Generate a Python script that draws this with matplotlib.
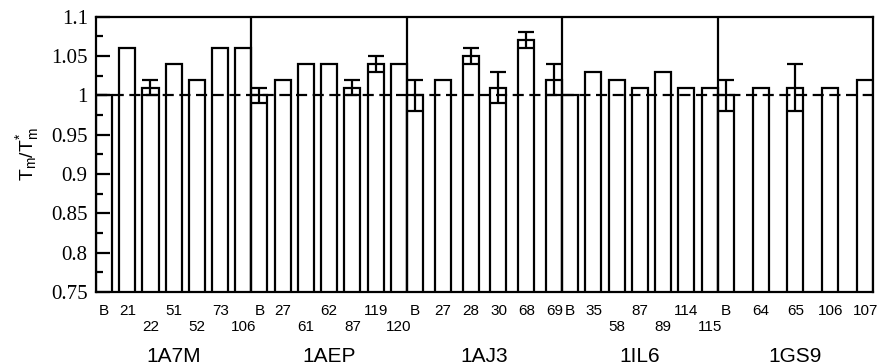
import numpy as np
import matplotlib
matplotlib.use("Agg")
import matplotlib.pyplot as plt
from matplotlib.ticker import MultipleLocator

plt.rcParams['mathtext.fontset'] = 'custom'
plt.rcParams['mathtext.rm'] = 'Liberation Sans'
plt.rcParams['mathtext.it'] = 'Liberation Sans'

# Proteins and the mutation sites tested in each
proteins = ["1A7M", "1AEP", "1AJ3", "1IL6", "1GS9"]
sites = [
    ["B", "21", "22", "51", "52", "73", "106"],
    ["B", "27", "61", "62", "87", "119", "120"],
    ["B", "27", "28", "30", "68", "69"],
    ["B", "35", "58", "87", "89", "114", "115"],
    ["B", "64", "65", "106", "107"],
]
# Normalised melting temperature Tm/Tm*
tm_ratio = [
    [1.00, 1.06, 1.01, 1.04, 1.02, 1.06, 1.06],
    [1.00, 1.02, 1.04, 1.04, 1.01, 1.04, 1.04],
    [1.00, 1.02, 1.05, 1.01, 1.07, 1.02],
    [1.00, 1.03, 1.02, 1.01, 1.03, 1.01, 1.01],
    [1.00, 1.01, 1.01, 1.01, 1.02],
]
# Uncertainty (0 = no error bar drawn)
tm_err = [
    [0.00, 0.00, 0.01, 0.00, 0.00, 0.00, 0.00],
    [0.01, 0.00, 0.00, 0.00, 0.01, 0.01, 0.00],
    [0.02, 0.00, 0.01, 0.02, 0.01, 0.02],
    [0.00, 0.00, 0.00, 0.00, 0.00, 0.00, 0.00],
    [0.02, 0.00, 0.03, 0.00, 0.00],
]
# Which labels go on the lower row (staggered to avoid overlap)
lower_row = [
    [0, 0, 1, 0, 1, 0, 1],
    [0, 0, 1, 0, 1, 0, 1],
    [0, 0, 0, 0, 0, 0],
    [0, 0, 1, 0, 1, 0, 1],
    [0, 0, 0, 0, 0],
]

fig = plt.figure(figsize=(8.81, 3.64), dpi=100)
ax = fig.add_axes([0.109, 0.198, 0.882, 0.756])
ax.set_axisbelow(False)

width = 0.103
lw = 1.6
top_x, top_lab, low_x, low_lab = [], [], [], []
for g, (labs, vals, errs, low) in enumerate(zip(sites, tm_ratio, tm_err, lower_row)):
    n = len(vals)
    step = (1 - width) / (n - 1)
    pos = g + width / 2 + step * np.arange(n)
    ax.bar(pos, vals, width=width, bottom=0, color="white",
           edgecolor="black", linewidth=lw, zorder=2)
    errs = np.asarray(errs)
    mask = errs > 0
    if mask.any():
        ax.errorbar(pos[mask], np.asarray(vals)[mask], yerr=errs[mask],
                    fmt="none", ecolor="black", elinewidth=lw,
                    capsize=5.5, capthick=lw, zorder=4)
    for p, s, lo in zip(pos, labs, low):
        if lo:
            low_x.append(p)
            low_lab.append(s)
        else:
            top_x.append(p)
            top_lab.append(s)
    ax.text(g + 0.5, -0.233, proteins[g], transform=ax.get_xaxis_transform(),
            ha="center", va="center", fontsize=15, family="Liberation Sans")

for g in range(1, len(proteins)):
    ax.axvline(g, color="black", linewidth=lw, zorder=5)

ax.axhline(1.0, color="black", linewidth=lw, dashes=(5, 2.5), zorder=3)

ax.set_xlim(0, len(proteins))
ax.set_ylim(0.75, 1.1)

# Site labels on two staggered rows: major ticks on top, minor below
ax.set_xticks(top_x)
ax.set_xticklabels(top_lab, fontsize=11, family="Liberation Sans")
ax.set_xticks(low_x, minor=True)
ax.set_xticklabels(low_lab, minor=True, fontsize=11, family="Liberation Sans")
ax.tick_params(axis="x", which="major", length=0, pad=9)
ax.tick_params(axis="x", which="minor", length=0, pad=20.5)

ax.yaxis.set_minor_locator(MultipleLocator(0.025))
ax.set_yticks([0.75, 0.8, 0.85, 0.9, 0.95, 1.0, 1.05, 1.1])
ax.set_yticklabels(["0.75", "0.8", "0.85", "0.9", "0.95", "1", "1.05", "1.1"],
                   fontsize=15)
for t in ax.get_yticklabels():
    t.set_fontfamily("Liberation Serif")
ax.tick_params(axis="y", which="major", direction="in", length=10, width=lw, pad=6)
ax.tick_params(axis="y", which="minor", direction="in", length=5, width=lw)

for s in ax.spines.values():
    s.set_linewidth(lw)
    s.set_zorder(6)

ax.set_ylabel(r"$\mathrm{T_m/T_m^{*}}$", fontsize=14, labelpad=7)

fig.savefig("out.png", dpi=100)
